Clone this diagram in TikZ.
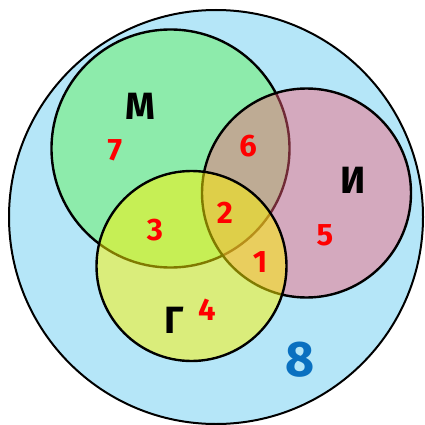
\documentclass[tikz,border=0pt]{standalone}
\usepackage{fontspec}
\setmainfont{Fira Sans}
\definecolor{outerblue}{HTML}{B5E6F8}
\definecolor{mgreen}{HTML}{8DEBAB}
\definecolor{ipink}{RGB}{250,95,120}
\definecolor{gyellow}{RGB}{255,244,0}
\definecolor{numred}{HTML}{FF0000}
\definecolor{eightblue}{HTML}{0A70C0}
\tikzset{
  setline/.style={draw=black, line width=2.4pt},
  setname/.style={font=\fontsize{38}{38}\selectfont\bfseries, text=black},
  regnum/.style={font=\fontsize{31}{31}\selectfont\bfseries, text=numred},
}
\begin{document}
\begin{tikzpicture}[x=1pt,y=-1pt]
\useasboundingbox (0,0) rectangle (425,425);
% universe
\fill[outerblue] (216,217) circle[radius=207];
\draw[draw=black, line width=2pt] (216,217) circle[radius=207];
% M
\fill[mgreen] (170.5,148.5) circle[radius=119];
\draw[setline] (170.5,148.5) circle[radius=119];
% I
\fill[ipink, fill opacity=0.45] (306.5,193) circle[radius=104.5];
\draw[setline] (306.5,193) circle[radius=104.5];
% G
\fill[gyellow, fill opacity=0.5] (191.5,266) circle[radius=95];
\draw[setline] (191.5,266) circle[radius=95];
% labels
\node[setname] (lm) at (140,106) {М};
\node[setname] (li) at (353,180) {И};
\node[setname] (lg) at (174,320) {Г};
\node[regnum] (n7) at (115,150) {7};
\node[regnum] (n6) at (248,146) {6};
\node[regnum] (n2) at (225,213) {2};
\node[regnum] (n3) at (155,230) {3};
\node[regnum] (n5) at (325,235) {5};
\node[regnum] (n1) at (260,262) {1};
\node[regnum] (n4) at (207,310) {4};
\node[font=\fontsize{50}{50}\selectfont\bfseries, text=eightblue] (n8) at (300,360) {8};
\end{tikzpicture}
\end{document}
